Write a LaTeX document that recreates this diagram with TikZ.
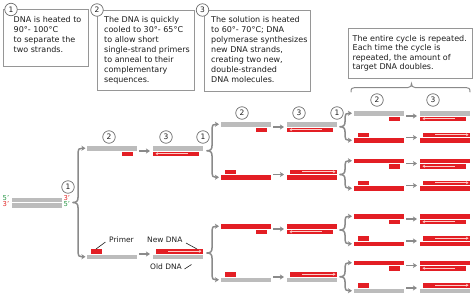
\documentclass[tikz,border=0pt]{standalone}
\usepackage{fontspec}
\setmainfont{DejaVu Sans}
\usetikzlibrary{arrows.meta}
\definecolor{dnared}{RGB}{227,30,36}
\definecolor{dnagray}{RGB}{188,188,188}
\definecolor{arrgray}{RGB}{138,138,138}
\definecolor{boxgray}{RGB}{150,150,150}
\definecolor{shadowgray}{RGB}{212,212,212}
\definecolor{txtcol}{RGB}{30,30,30}
\definecolor{newpink}{RGB}{252,205,200}
\definecolor{primegreen}{RGB}{40,150,70}
\definecolor{primered}{RGB}{225,40,40}
\tikzset{
  branchline/.style={draw=arrgray, line width=1.5pt, line cap=round, line join=round},
  bracearrow/.style={branchline, -{Stealth[length=4pt,width=5pt,inset=1pt]}},
  steparrow/.style={draw=arrgray, line width=1.5pt, -{Stealth[length=4pt,width=5pt,inset=1pt]}},
  newarrow/.style={draw=newpink, line width=0.8pt, -{Stealth[length=2.5pt,width=3pt]}},
  numcirc/.style={circle, draw=arrgray!80!black, line width=0.7pt, fill=white, minimum size=12.5pt, inner sep=0pt, text=txtcol, font=\fontsize{7.5}{8}\selectfont},
  infobox/.style={draw=boxgray, line width=0.9pt, fill=white, anchor=north west, inner sep=0pt},
  boxtext/.style={anchor=north west, inner sep=0pt, align=left, text=txtcol, font=\fontsize{8}{10}\selectfont},
  lbl/.style={anchor=base west, inner sep=0pt, text=txtcol, font=\fontsize{7.5}{9}\selectfont},
  leader/.style={draw=txtcol, line width=0.6pt},
  endlbl/.style={anchor=west, inner sep=0pt, font=\fontsize{6.8}{6.8}\selectfont},
  hbrace/.style={draw=arrgray, line width=1pt, line cap=round},
}
% template on top, primer bottom right
\newcommand{\rowP}[4]{%
  \fill[#3] (#1,{#2-5}) rectangle ({#1+50},{#2-0.5});
  \fill[dnared] ({#1+35},{#2+0.5}) rectangle ({#1+46},{#2+5});
  \coordinate (#4-a) at ({#1+52},#2);
  \coordinate (#4-b) at ({#1+63},#2);
  \draw[steparrow] (#4-a) -- (#4-b);
  \fill[#3] ({#1+66},{#2-5}) rectangle ({#1+116},{#2-0.5});
  \fill[dnared] ({#1+66},{#2+0.5}) rectangle ({#1+112},{#2+5});
  \coordinate (#4-n1) at ({#1+101},{#2+2.75});
  \coordinate (#4-n2) at ({#1+68.5},{#2+2.75});
  \draw[newarrow] (#4-n1) -- (#4-n2);
}
% template at bottom, primer top left
\newcommand{\rowQ}[4]{%
  \fill[dnared] ({#1+4},{#2-5}) rectangle ({#1+15},{#2-0.5});
  \fill[#3] (#1,{#2+0.5}) rectangle ({#1+50},{#2+5});
  \coordinate (#4-a) at ({#1+52},#2);
  \coordinate (#4-b) at ({#1+63},#2);
  \draw[steparrow] (#4-a) -- (#4-b);
  \fill[dnared] ({#1+69},{#2-5}) rectangle ({#1+116},{#2-0.5});
  \fill[#3] ({#1+66},{#2+0.5}) rectangle ({#1+116},{#2+5});
  \coordinate (#4-n1) at ({#1+81},{#2-2.75});
  \coordinate (#4-n2) at ({#1+114.5},{#2-2.75});
  \draw[newarrow] (#4-n1) -- (#4-n2);
}
% branching brace: x, ytop, ybottom, name, xend
\newcommand{\branch}[5]{%
  \pgfmathsetmacro{\ymid}{(#2+#3)/2}
  \coordinate (#4-tip) at ({#1-5},\ymid);
  \coordinate (#4-up) at (#5,#2);
  \coordinate (#4-dn) at (#5,#3);
  \draw[bracearrow] (#4-tip) .. controls ({#1-1.5},\ymid) and (#1,{\ymid-1.5}) .. (#1,{\ymid-5}) -- (#1,{#2+4}) .. controls (#1,{#2+1}) and ({#1+1},#2) .. ({#1+4},#2) -- (#4-up);
  \draw[bracearrow] (#4-tip) .. controls ({#1-1.5},\ymid) and (#1,{\ymid+1.5}) .. (#1,{\ymid+5}) -- (#1,{#3-4}) .. controls (#1,{#3-1}) and ({#1+1},#3) .. ({#1+4},#3) -- (#4-dn);
}
\begin{document}
\begin{tikzpicture}[x=1pt,y=-1pt]
\useasboundingbox (0,0) rectangle (474,297);
% ---------- info boxes ----------
\fill[shadowgray] (4.3,10.3) rectangle (88.8,67.3);
\node[infobox, minimum width=84.5pt, minimum height=57pt] (box1) at (3,9) {};
\fill[shadowgray] (98.3,10.8) rectangle (195.3,91.3);
\node[infobox, minimum width=97pt, minimum height=80.5pt] (box2) at (97,9.5) {};
\fill[shadowgray] (205.3,11.3) rectangle (311.3,92.3);
\node[infobox, minimum width=106pt, minimum height=81pt] (box3) at (204,10) {};
\fill[shadowgray] (349.3,29.3) rectangle (473.3,79.3);
\node[infobox, minimum width=124pt, minimum height=50pt] (box4) at (348,28) {};
\node[boxtext] (t1) at (13.5,16.6) {DNA is heated to\\90°- 100°C\\to separate the\\two strands.};
\node[boxtext] (t2) at (104,16.4) {The DNA is quickly\\cooled to 30°- 65°C\\to allow short\\single-strand primers\\to anneal to their\\complementary\\sequences.};
\node[boxtext] (t3) at (211,16.2) {The solution is heated\\to 60°- 70°C; DNA\\polymerase synthesizes\\new DNA strands,\\creating two new,\\double-stranded\\DNA molecules.};
\node[boxtext, font=\fontsize{8}{9.5}\selectfont] (t4) at (352.5,35.2) {The entire cycle is repeated.\\Each time the cycle is\\repeated, the amount of\\target DNA doubles.};
\node[numcirc] (cb1) at (11,9.5) {1};
\node[numcirc] (cb2) at (97,10) {2};
\node[numcirc] (cb3) at (202.5,10) {3};
% brace over the last cycle
\coordinate (hb-l) at (351,92);
\coordinate (hb-r) at (470,92);
\coordinate (hb-t) at (411.5,83.5);
\draw[hbrace] (hb-l) .. controls (351,88.5) and (352,87.5) .. (355,87.5) -- (408,87.5) .. controls (410.5,87.5) and (411.5,86) .. (hb-t) .. controls (411.5,86) and (412.5,87.5) .. (415,87.5) -- (466,87.5) .. controls (469,87.5) and (470,88.5) .. (hb-r);
% ---------- initial DNA ----------
\fill[dnagray] (12,197.5) rectangle (62,202);
\fill[dnagray] (12,203) rectangle (62,207.5);
\node[endlbl, text=primegreen] (l5a) at (2.5,198.3) {5'};
\node[endlbl, text=primered] (l3a) at (2.5,204.5) {3'};
\node[endlbl, text=primered] (l3b) at (63.3,198.3) {3'};
\node[endlbl, text=primegreen] (l5b) at (63.3,204.5) {5'};
% ---------- branches ----------
\branch{78}{148.25}{256.75}{br0}{85.5}
\branch{212}{124.25}{177.25}{brA}{219}
\branch{212}{226.25}{279.75}{brB}{219}
\branch{345}{113.25}{140.25}{brR1}{352}
\branch{345}{160.75}{188.25}{brR2}{352}
\branch{345}{216.25}{243.75}{brR3}{352}
\branch{345}{262.75}{290.75}{brR4}{352}
% ---------- rows ----------
\rowP{87}{151}{dnagray}{L1}
\rowQ{87}{254}{dnagray}{L2}
\rowP{221}{127}{dnagray}{MA}
\rowQ{221}{174.5}{dnared}{MB}
\rowP{221}{229}{dnared}{MC}
\rowQ{221}{277}{dnagray}{MD}
\rowP{354}{116}{dnagray}{R1}
\rowQ{354}{137.5}{dnared}{R2}
\rowP{354}{163.5}{dnared}{R3}
\rowQ{354}{185.5}{dnared}{R4}
\rowP{354}{219}{dnared}{R5}
\rowQ{354}{241}{dnared}{R6}
\rowP{354}{265.5}{dnared}{R7}
\rowQ{354}{288}{dnagray}{R8}
% ---------- step circles ----------
\node[numcirc] (s1a) at (68,187) {1};
\node[numcirc] (s2a) at (109,137) {2};
\node[numcirc] (s3a) at (166,137) {3};
\node[numcirc] (s1b) at (203,137) {1};
\node[numcirc] (s2b) at (242,113) {2};
\node[numcirc] (s3b) at (299,113) {3};
\node[numcirc] (s1c) at (337,113) {1};
\node[numcirc] (s2c) at (377,100) {2};
\node[numcirc] (s3c) at (433,100) {3};
% ---------- labels ----------
\node[lbl] (primer) at (109,242.7) {Primer};
\node[lbl] (newdna) at (147,242.7) {New DNA};
\node[lbl] (olddna) at (150,269.3) {Old DNA};
\coordinate (pr-s) at (105.5,242);
\coordinate (pr-e) at (96,249);
\coordinate (nd-s) at (186,243);
\coordinate (nd-e) at (197,249);
\coordinate (od-s) at (184.5,269);
\coordinate (od-e) at (191.5,264.5);
\draw[leader] (pr-s) -- (pr-e);
\draw[leader] (nd-s) -- (nd-e);
\draw[leader] (od-s) -- (od-e);
\end{tikzpicture}
\end{document}
